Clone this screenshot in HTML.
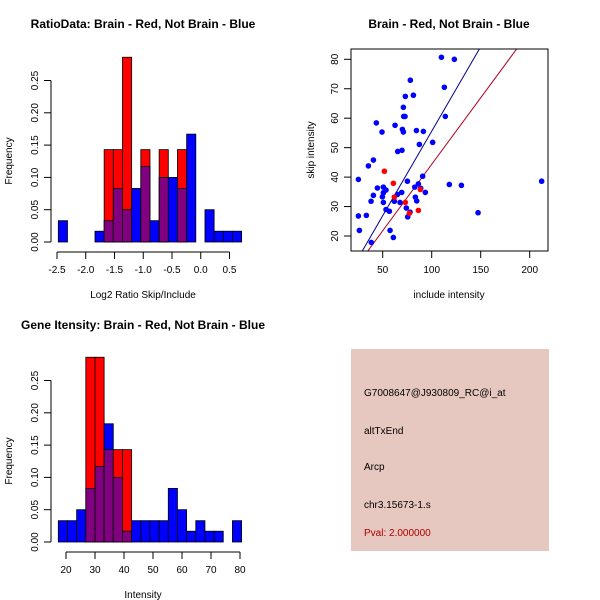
<!DOCTYPE html>
<html><head><meta charset="utf-8"><style>
html,body{margin:0;padding:0;background:#fff;}
svg{display:block;font-family:"Liberation Sans",sans-serif;}
</style></head><body>
<svg id="s" width="600" height="600" viewBox="0 0 600 600">
<rect width="600" height="600" fill="#fff"/>
<text x="143" y="28" text-anchor="middle" font-size="12" font-weight="bold">RatioData: Brain - Red, Not Brain - Blue</text>
<text x="449" y="28" text-anchor="middle" font-size="12" font-weight="bold">Brain - Red, Not Brain - Blue</text>
<text x="143" y="329" text-anchor="middle" font-size="12" font-weight="bold">Gene Itensity: Brain - Red, Not Brain - Blue</text>
<text x="143" y="298" text-anchor="middle" font-size="10">Log2 Ratio Skip/Include</text>
<text x="449" y="298" text-anchor="middle" font-size="10">include intensity</text>
<text x="143" y="598" text-anchor="middle" font-size="10">Intensity</text>
<text transform="translate(12,161) rotate(-90)" text-anchor="middle" font-size="10">Frequency</text>
<text transform="translate(12,461) rotate(-90)" text-anchor="middle" font-size="10">Frequency</text>
<text transform="translate(314,150) rotate(-90)" text-anchor="middle" font-size="10">skip intensity</text>
<g>
<rect x="351" y="349" width="198" height="202" fill="#e6c8c0"/>
<text x="364" y="396" font-size="10">G7008647@J930809_RC@i_at</text>
<text x="364" y="434" font-size="10">altTxEnd</text>
<text x="364" y="470" font-size="10">Arcp</text>
<text x="364" y="508" font-size="10">chr3.15673-1.s</text>
<text x="364" y="536" font-size="10" fill="#b00000">Pval: 2.000000</text>
</g>
</svg>
<script>
// Ratio histogram data
const ratioStart = -2.477, ratioWidth = 0.1594;
const ratioBlue = [0.033,0,0,0,0.0167,0.033,0.083,0.05,0.083,0.117,0.033,0.1,0.1,0.083,0.167,0,0.05,0.0167,0.0167,0.0167];
const ratioRed  = [0,0,0,0,0,0.143,0.143,0.286,0,0.143,0,0.143,0,0.143,0,0,0,0,0,0];
const ratioTicks = [-2.5,-2.0,-1.5,-1.0,-0.5,0.0,0.5];
const ratioTickLabels = ["-2.5","-2.0","-1.5","-1.0","-0.5","0.0","0.5"];
// Intensity histogram data
const intStart = 17.35, intWidth = 3.16;
const intBlue = [0.033,0.033,0.05,0.083,0.117,0.183,0.1,0.0167,0.033,0.033,0.033,0.033,0.083,0.05,0.0167,0.033,0.0167,0.0167,0,0.033];
const intRed  = [0,0,0,0.286,0.286,0.143,0.143,0.143,0,0,0,0,0,0,0,0,0,0,0,0];
const intTicks = [20,30,40,50,60,70,80];
const intTickLabels = ["20","30","40","50","60","70","80"];
const freqTicks = [0,0.05,0.10,0.15,0.20,0.25];
const freqTickLabels = ["0.00","0.05","0.10","0.15","0.20","0.25"];
// Scatter data
const blueX = [25.2,26.2,25.2,33.3,35.4,38.1,40.5,40.5,43.5,44.6,49.3,49.7,50.7,50.7,50.7,53.4,53.4,56.8,57.5,60.9,61.9,62.6,65.0,65.3,67.7,69.4,69.7,70.1,71.1,71.1,71.4,72.8,73.1,74.1,75.2,75.5,77.9,78.2,81.3,82.7,83.3,84.4,84.7,86.4,87.4,88.8,90.8,91.5,93.5,101,109.9,112.9,113.9,118,123.1,130.3,147.3,212.2,38.4];
const blueY = [39.2,21.9,26.8,27.0,43.8,31.8,33.8,45.8,58.4,36.3,55.3,33.3,34.7,36.6,31.4,35.6,29.0,28.4,21.9,19.5,31.8,57.6,34.1,48.7,31.4,34.8,49.1,56.2,55.3,63.7,60.6,60.6,67.4,29.5,38.6,26.5,28.1,72.9,67.8,36.6,33.2,55.8,31.9,37.7,51.1,36.2,40.3,55.5,34.8,51.8,80.7,70.5,60.6,37.5,80,37.2,27.9,38.6,17.8];
const redX = [51.7,60.9,61.9,73.1,77.2,86.4,88.4];
const redY = [42.0,37.9,33.2,31.4,27.7,28.7,35.8];
const blueFit = [-1.82, 0.574];
const redFit = [-0.81, 0.4516];
const scatXTicks = [50,100,150,200];
const scatYTicks = [20,30,40,50,60,70,80];

const NS = "http://www.w3.org/2000/svg";
const svg = document.getElementById('s');
function mk(tag, attrs, parent){const e=document.createElementNS(NS,tag);for(const k in attrs)e.setAttribute(k,attrs[k]);(parent||svg).appendChild(e);return e;}

function hist(y0, xScale, start, width, blue, red, ticks, labels, prefix){
  const yS = v => y0 - v*646.0;
  const g = mk('g',{});
  
  
  for(let i=0;i<blue.length;i++){
    const x1=xScale(start+i*width), x2=xScale(start+(i+1)*width);
    const b=blue[i], r=red[i];
    const hi = Math.max(b,r), lo = Math.min(b,r);
    if(hi>0){
      const e=mk('rect',{x:x1,y:yS(hi),width:x2-x1,height:y0-yS(hi),fill:b>=r?'#0000ff':'#ff0000',stroke:'#000','stroke-width':0.8},g);
      
      
    }
    if(lo>0){
      const e=mk('rect',{x:x1,y:yS(lo),width:x2-x1,height:y0-yS(lo),fill:'#800080',stroke:'#000','stroke-width':0.8},g);
      
      
    }
  }
  // y axis
  const ya = mk('g',{},g);
  
  
  mk('line',{x1:51,x2:51,y1:yS(0),y2:yS(0.25),stroke:'#000'},ya);
  freqTicks.forEach((t,i)=>{
    mk('line',{x1:44,x2:51,y1:yS(t),y2:yS(t),stroke:'#000'},ya);
    const tx=mk('text',{transform:`translate(38,${yS(t)}) rotate(-90)`,'text-anchor':'middle','font-size':10},ya);
    tx.textContent=freqTickLabels[i];
  });
  // x axis
  const xa = mk('g',{},g);
  
  
  mk('line',{x1:xScale(ticks[0]),x2:xScale(ticks[ticks.length-1]),y1:y0+10,y2:y0+10,stroke:'#000'},xa);
  ticks.forEach((t,i)=>{
    mk('line',{x1:xScale(t),x2:xScale(t),y1:y0+10,y2:y0+17,stroke:'#000'},xa);
    const tx=mk('text',{x:xScale(t),y:y0+31,'text-anchor':'middle','font-size':10},xa);
    tx.textContent=labels[i];
  });
}
hist(242, v=>57+(v+2.5)*57.5, ratioStart, ratioWidth, ratioBlue, ratioRed, ratioTicks, ratioTickLabels, 'ratio');
hist(542, v=>66+(v-20)*2.9, intStart, intWidth, intBlue, intRed, intTicks, intTickLabels, 'intensity');

// scatter
const sx = v => 382.7 + (v-50)*0.98;
const sy = v => 59.3 - (v-80)*2.945;
const sg = mk('g',{});


mk('defs',{},sg).innerHTML='<clipPath id="cp"><rect x="351" y="49" width="197" height="202"/></clipPath>';
const fits=[[blueFit,'#00008b','blue-fit-line'],[redFit,'#b00020','red-fit-line']];
fits.forEach(([f,c,n])=>{
  const l=mk('line',{x1:sx(0),y1:sy(f[0]),x2:sx(250),y2:sy(f[0]+f[1]*250),stroke:c,'stroke-width':1,'clip-path':'url(#cp)'},sg);
  
  
});
blueX.forEach((x,i)=>{
  const c=mk('circle',{cx:sx(x),cy:sy(blueY[i]),r:2.8,fill:'#0000ff'},sg);
  
  
});
redX.forEach((x,i)=>{
  const c=mk('circle',{cx:sx(x),cy:sy(redY[i]),r:2.8,fill:'#ff0000'},sg);
  
  
});
const box=mk('rect',{x:351,y:49,width:197,height:202,fill:'none',stroke:'#000'},sg);


const sxa=mk('g',{},sg);


scatXTicks.forEach(t=>{
  mk('line',{x1:sx(t),x2:sx(t),y1:251,y2:258,stroke:'#000'},sxa);
  const tx=mk('text',{x:sx(t),y:273,'text-anchor':'middle','font-size':10},sxa);
  tx.textContent=String(t);
});
const sya=mk('g',{},sg);


scatYTicks.forEach(t=>{
  mk('line',{x1:344,x2:351,y1:sy(t),y2:sy(t),stroke:'#000'},sya);
  const tx=mk('text',{transform:`translate(338,${sy(t)}) rotate(-90)`,'text-anchor':'middle','font-size':10},sya);
  tx.textContent=String(t);
});
</script>
</body></html>
